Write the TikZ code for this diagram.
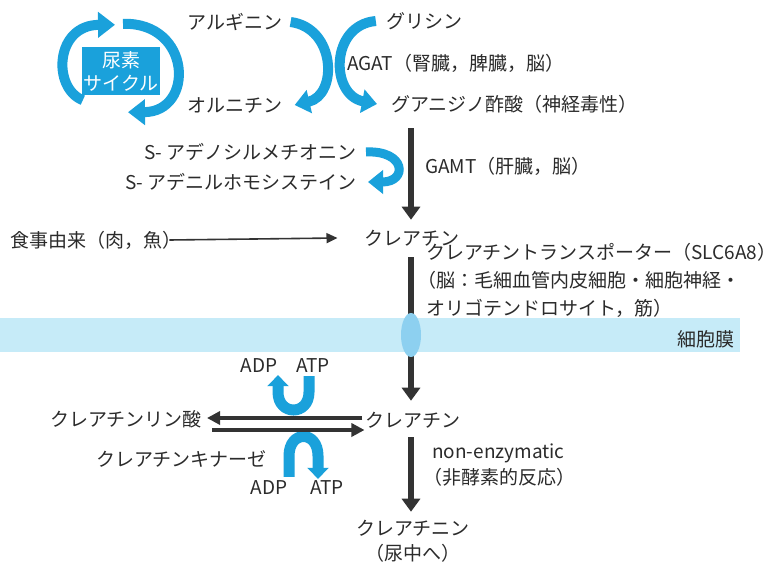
\documentclass[tikz,border=0pt]{standalone}
\usepackage{fontspec}
\setmainfont{Noto Sans CJK JP}
\usetikzlibrary{arrows.meta,calc}
\definecolor{cblue}{HTML}{1AA1DB}
\definecolor{darkc}{HTML}{333333}
\definecolor{txtc}{HTML}{2B2B2B}
\definecolor{memb}{HTML}{C6EBF8}
\definecolor{transc}{HTML}{8DD0F0}
\tikzset{
  txt/.style={font=\fontsize{19}{22}\selectfont, text=txtc, inner sep=0pt},
  blueflow/.style={draw=cblue, line width=10pt, -{Triangle[length=15pt,width=23pt]}},
  bluecycle/.style={draw=cblue, line width=10pt, -{Triangle[length=17pt,width=25pt]}},
  blueu/.style={draw=cblue, line width=11pt, -{Triangle[length=11pt,width=21pt]}},
  darkarrow/.style={draw=darkc, line width=6pt, -{Triangle[length=13pt,width=18pt]}},
  thinarrow/.style={draw=darkc, line width=1.6pt, -{Triangle[length=11pt,width=10pt]}},
  midarrow/.style={draw=darkc, line width=3.2pt, -{Triangle[length=13pt,width=13pt]}},
}
\begin{document}
\begin{tikzpicture}[x=1pt,y=-1pt]
\useasboundingbox (0,0) rectangle (784,567);
\fill[white] (0,0) rectangle (784,567);

% urea cycle
\node[fill=cblue, minimum width=78pt, minimum height=48pt, inner sep=0pt, text=white,
      font=\fontsize{19}{23}\selectfont, align=center] (urea) at (121,71) {尿素\\サイクル};
\draw[bluecycle] ($(urea.south west)+(1,5)$) .. controls (52,88) and (55,25) .. ($(urea.north)+(-6,-22)$);
\draw[bluecycle] ($(urea.north)+(2,-23)$) .. controls (192,22) and (195,112) .. ($(urea.south)+(7,17)$);

% top texts
\node[txt] (arg) at (235,22) {アルギニン};
\node[txt] (orn) at (235,105) {オルニチン};
\node[txt] (gly) at (424,21) {グリシン};
\node[txt,anchor=west] (agat) at (347,63) {AGAT（腎臓，脾臓，脳）};
\node[txt,anchor=west] (gaa) at (391,104) {グアニジノ酢酸（神経毒性）};

\draw[blueflow] ([xshift=8pt]arg.east) .. controls (336,28) and (338,95) .. ([xshift=12pt]orn.east);
\draw[blueflow] ([xshift=-10pt]gly.west) .. controls (330,25) and (330,95) .. ([xshift=-14pt]gaa.west);

% SAM / GAMT
\node[txt,anchor=east] (sam) at (357,152) {S- アデノシルメチオニン};
\node[txt,anchor=east] (sah) at (357,182) {S- アデニルホモシステイン};
\node[txt,anchor=west] (gamt) at (425,166) {GAMT（肝臓，脳）};
\draw[blueflow, line width=9pt] ([xshift=9pt]sam.east) .. controls (406,150) and (408,182) .. ([xshift=11pt]sah.east);

% creatine
\node[txt] (cr1) at (412,238) {クレアチン};
\node[txt,anchor=west] (diet) at (10,240) {食事由来（肉，魚）};
\draw[thinarrow] ([xshift=-12pt]diet.east) -- ([xshift=-27pt]cr1.west);
\draw[darkarrow] ($(gaa.south -| cr1.north)+(-1,15)$) -- ($(cr1.north)+(-1,-10)$);

% creatine 2
\node[txt] (cr2) at (413,420) {クレアチン};
\draw[darkarrow] ($(cr1.south)+(-1,11)$) -- ($(cr2.north)+(-2,-11)$);

% membrane
\fill[memb] (0,318) rectangle (740,352);
\node[txt,anchor=east] (memlbl) at (735,339) {細胞膜};
\fill[transc] (411,335) ellipse[x radius=10, y radius=22];

\node[txt,anchor=north west,align=left,font=\fontsize{19}{28}\selectfont] (slc) at (426,243)
  {クレアチントランスポーター（SLC6A8）\\\hspace*{-0.45em}（脳：毛細血管内皮細胞・細胞神経・\\オリゴテンドロサイト，筋）};

% phosphocreatine
\node[txt,anchor=east] (pcr) at (202,419) {クレアチンリン酸};
\node[txt,anchor=east] (ck) at (267,459) {クレアチンキナーゼ};
\node[txt] (adp1) at (259,366) {ADP};
\node[txt] (atp1) at (313,366) {ATP};
\node[txt] (adp2) at (269,488) {ADP};
\node[txt] (atp2) at (327,488) {ATP};

\draw[blueu] ([yshift=-3pt]atp1.south -| 309,0) -- (309,392) .. controls (309,416) and (278,416) .. (278,392) -- ([yshift=-2pt]adp1.south -| 278,0);
\draw[blueu] ([yshift=4pt]adp2.north -| 289,0) -- (289,456) .. controls (289,430) and (318,430) .. (318,456) -- ([yshift=2pt]atp2.north -| 318,0);

\draw[midarrow] ($(cr2.west)+(-3,-2)$) -- ($(pcr.east)+(5,-1)$);
\draw[midarrow] ($(pcr.east)+(10,11)$) -- ($(cr2.west)+(-1,10)$);

% creatinine
\node[txt,align=center,font=\fontsize{19}{25}\selectfont] (crn) at (413,541) {クレアチニン\\（尿中へ）};
\draw[darkarrow] ($(cr2.south)+(-2,9)$) -- ($(crn.north)+(-2,-8)$);
\node[txt,anchor=north west,align=left,font=\fontsize{19}{26}\selectfont] (nonenz) at (432,444)
  {non-enzymatic\\\hspace*{-0.45em}（非酵素的反応）};
\end{tikzpicture}
\end{document}
